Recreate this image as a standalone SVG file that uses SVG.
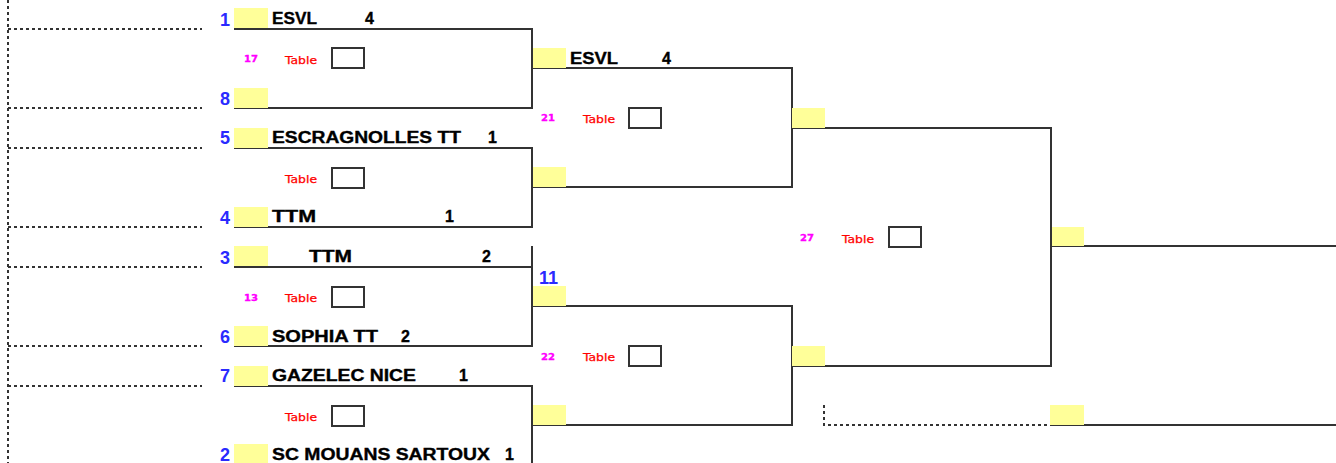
<svg xmlns="http://www.w3.org/2000/svg" width="1336" height="463" viewBox="0 0 1336 463">
<style>
.y{fill:#ffff99;stroke:none}
.l{fill:none;stroke:#333;stroke-width:2}
.d{fill:none;stroke:#333;stroke-width:2;stroke-dasharray:3 3}
.b{fill:#fff;stroke:#333;stroke-width:2}
.n{font:bold 18px "Liberation Sans",Arial,sans-serif;fill:#2a2aff}
.t{font:bold 16px "Liberation Sans",Arial,sans-serif;fill:#000;stroke:#000;stroke-width:.35}
.r{font:10px "DejaVu Sans",sans-serif;fill:#f00;stroke:#f00;stroke-width:.25}
.m{font:bold 8px "DejaVu Sans",sans-serif;fill:#f0f;stroke:#f0f;stroke-width:.3}
</style>
<rect width="1336" height="463" fill="#fff"/>
<g id="connectors">
<path class="d" d="M8 0V463M8 29H202M8 108H202M8 148H202M8 227H202M8 267H202M8 346H202M8 386H202M824 405V425H1050"/>
<path class="l" d="M234 29H532V108H234M234 148H532V227H234M532 246V346H234M234 267H532M234 386H532V463M532 68H792V187H532M532 306H792V425H532M792 128H1051V366H792M1051 246H1336M1050 425H1336"/>
</g>
<g id="node-1"><rect class="y" x="234" y="8" width="34" height="20"/><text class="n" x="220" y="26">1</text><text class="t" x="272" y="24" textLength="45" lengthAdjust="spacingAndGlyphs">ESVL</text><text class="t" x="365" y="24">4</text></g>
<g id="node-8"><rect class="y" x="234" y="88" width="34" height="20"/><text class="n" x="220" y="105">8</text></g>
<g id="node-5"><rect class="y" x="234" y="128" width="34" height="20"/><text class="n" x="220" y="144">5</text><text class="t" x="272" y="143" textLength="189" lengthAdjust="spacingAndGlyphs">ESCRAGNOLLES TT</text><text class="t" x="488" y="143">1</text></g>
<g id="node-4"><rect class="y" x="234" y="207" width="34" height="20"/><text class="n" x="220" y="224">4</text><text class="t" x="272" y="222" textLength="44" lengthAdjust="spacingAndGlyphs">TTM</text><text class="t" x="445" y="222">1</text></g>
<g id="node-3"><rect class="y" x="234" y="246" width="34" height="20"/><text class="n" x="220" y="264">3</text><text class="t" x="309" y="262" textLength="43" lengthAdjust="spacingAndGlyphs">TTM</text><text class="t" x="482" y="262">2</text></g>
<g id="node-6"><rect class="y" x="234" y="326" width="34" height="20"/><text class="n" x="220" y="343">6</text><text class="t" x="272" y="342" textLength="106" lengthAdjust="spacingAndGlyphs">SOPHIA TT</text><text class="t" x="401" y="342">2</text></g>
<g id="node-7"><rect class="y" x="234" y="366" width="34" height="20"/><text class="n" x="220" y="382">7</text><text class="t" x="272" y="381" textLength="144" lengthAdjust="spacingAndGlyphs">GAZELEC NICE</text><text class="t" x="459" y="381">1</text></g>
<g id="node-2"><rect class="y" x="234" y="444" width="34" height="19"/><text class="n" x="220" y="461">2</text><text class="t" x="272" y="460" textLength="218" lengthAdjust="spacingAndGlyphs">SC MOUANS SARTOUX</text><text class="t" x="505" y="460">1</text></g>
<g id="node-w1"><rect class="y" x="533" y="48" width="33" height="20"/><text class="t" x="570" y="64" textLength="48" lengthAdjust="spacingAndGlyphs">ESVL</text><text class="t" x="662" y="64">4</text></g>
<g id="node-w2"><rect class="y" x="533" y="167" width="33" height="20"/></g>
<g id="node-w3"><rect class="y" x="533" y="286" width="33" height="20"/><text class="n" x="539" y="284">11</text></g>
<g id="node-w4"><rect class="y" x="533" y="405" width="33" height="20"/></g>
<g id="node-s1"><rect class="y" x="792" y="108" width="33" height="20"/></g>
<g id="node-s2"><rect class="y" x="792" y="346" width="33" height="20"/></g>
<g id="node-f1"><rect class="y" x="1052" y="227" width="32" height="19"/></g>
<g id="node-f2"><rect class="y" x="1050" y="405" width="34" height="20"/></g>
<g id="match-17"><text class="m" x="244" y="62" textLength="14" lengthAdjust="spacingAndGlyphs">17</text><text class="r" x="285" y="64" textLength="32" lengthAdjust="spacingAndGlyphs">Table</text><rect class="b" x="332" y="48" width="32" height="20"/></g>
<g id="match-a"><text class="r" x="285" y="183" textLength="32" lengthAdjust="spacingAndGlyphs">Table</text><rect class="b" x="332" y="168" width="32" height="20"/></g>
<g id="match-13"><text class="m" x="244" y="301" textLength="14" lengthAdjust="spacingAndGlyphs">13</text><text class="r" x="285" y="302" textLength="32" lengthAdjust="spacingAndGlyphs">Table</text><rect class="b" x="332" y="287" width="32" height="20"/></g>
<g id="match-b"><text class="r" x="285" y="421" textLength="32" lengthAdjust="spacingAndGlyphs">Table</text><rect class="b" x="332" y="406" width="32" height="20"/></g>
<g id="match-21"><text class="m" x="541" y="121" textLength="14" lengthAdjust="spacingAndGlyphs">21</text><text class="r" x="583" y="123" textLength="32" lengthAdjust="spacingAndGlyphs">Table</text><rect class="b" x="629" y="108" width="32" height="20"/></g>
<g id="match-22"><text class="m" x="541" y="360" textLength="14" lengthAdjust="spacingAndGlyphs">22</text><text class="r" x="583" y="361" textLength="32" lengthAdjust="spacingAndGlyphs">Table</text><rect class="b" x="629" y="346" width="32" height="20"/></g>
<g id="match-27"><text class="m" x="800" y="241" textLength="14" lengthAdjust="spacingAndGlyphs">27</text><text class="r" x="842" y="243" textLength="32" lengthAdjust="spacingAndGlyphs">Table</text><rect class="b" x="889" y="227" width="32" height="20"/></g>
</svg>
